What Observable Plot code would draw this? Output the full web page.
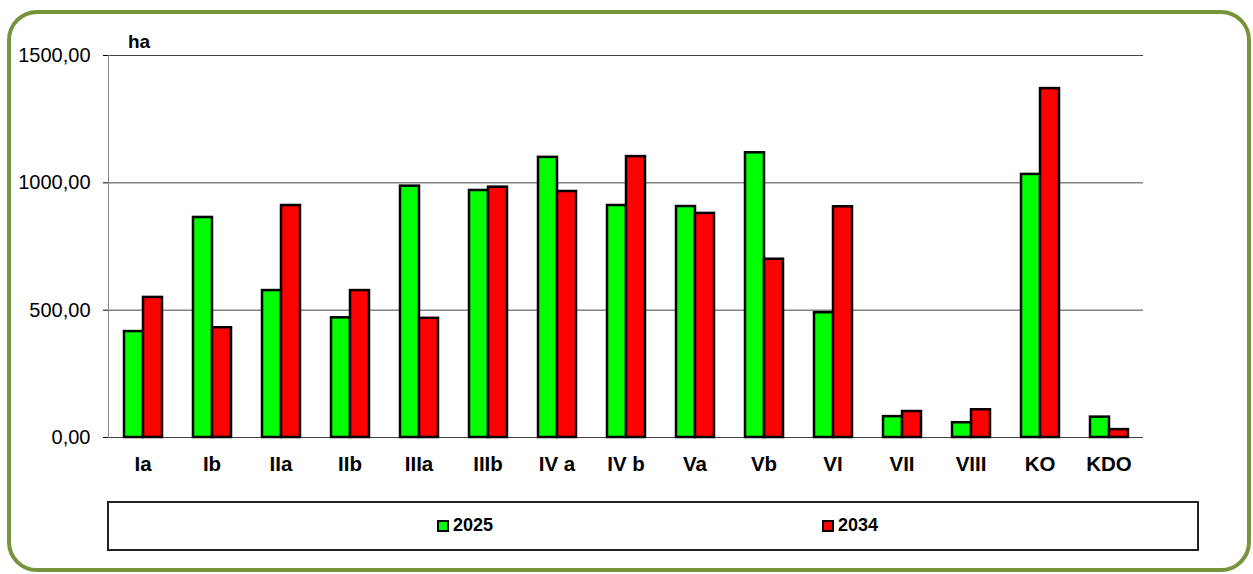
<!DOCTYPE html>
<html>
<head>
<meta charset="utf-8">
<script src="https://cdn.jsdelivr.net/npm/d3@7"></script>
<script src="https://cdn.jsdelivr.net/npm/@observablehq/plot@0.6"></script>
<style>
  html, body { margin: 0; padding: 0; background: #fff; }
  body { width: 1253px; height: 574px; position: relative; overflow: hidden; font-family: "Liberation Sans", Arial, sans-serif; }
  #frame { position: absolute; left: 7px; top: 10px; width: 1244px; height: 562px; box-sizing: border-box; border: 4px solid #77933C; border-radius: 30px; }
  #chart { position: absolute; left: 0; top: 0; }
  #unit { position: absolute; left: 128px; top: 31px; font-weight: bold; font-size: 19px; color: #000; }
  #legend { position: absolute; left: 107px; top: 501px; width: 1092px; height: 50px; box-sizing: border-box; border: 2px solid #222; }
  .item { position: absolute; top: 12px; font-weight: bold; font-size: 18px; display: flex; align-items: center; gap: 4px; }
  .sw { width: 8px; height: 8px; border: 2px solid #000; }
</style>
</head>
<body>
<div id="frame"></div>
<div id="chart"></div>
<div id="unit">ha</div>
<div id="legend"></div>
<script>
const categories = ["Ia","Ib","IIa","IIb","IIIa","IIIb","IV a","IV b","Va","Vb","VI","VII","VIII","KO","KDO"];
const series = ["2025","2034"];
const values2025 = [416, 864, 577, 470, 987, 970, 1100, 911, 907, 1118, 490, 82, 58, 1033, 80];
const values2034 = [550, 431, 911, 577, 468, 983, 966, 1103, 880, 700, 906, 102, 109, 1370, 31];
const yTicks = [0, 500, 1000, 1500];
const colors = ["#00ff00", "#ff0000"];

const data = [];
categories.forEach((c, i) => {
  data.push({cat: c, year: series[0], value: values2025[i]});
  data.push({cat: c, year: series[1], value: values2034[i]});
});

const chart = Plot.plot({
  width: 1253,
  height: 480,
  marginTop: 55,
  marginBottom: 43,
  marginLeft: 108,
  marginRight: 110,
  style: {fontFamily: "'Liberation Sans', Arial, sans-serif", background: "transparent", color: "#000"},
  fx: {domain: categories, padding: 0, label: null, axis: null},
  x: {domain: series, paddingInner: 0, paddingOuter: 0.75, axis: null},
  y: {domain: [0, 1500], label: null, axis: null},
  color: {domain: series, range: colors},
  marks: [
    Plot.ruleY(yTicks, {stroke: "#444", strokeWidth: 1}),
    Plot.frame({anchor: "left", facet: "super", stroke: "#888"}),
    Plot.barY(data, {fx: "cat", x: "year", y: "value", fill: "year", stroke: "#000", strokeWidth: 2.5}),
    Plot.axisY({ticks: yTicks, tickSize: 5, tickPadding: 13, fontSize: 20, label: null,
      tickFormat: d => d.toFixed(2).replace(".", ",")}),
    Plot.axisFx({anchor: "bottom", tickSize: 0, tickPadding: 19, fontSize: 20.5, fontWeight: "bold", label: null})
  ]
});
document.getElementById("chart").appendChild(chart);

const legend = document.getElementById("legend");
const lefts = [328, 713];
series.forEach((s, i) => {
  const it = document.createElement("div");
  it.className = "item";
  it.style.left = lefts[i] + "px";
  const sw = document.createElement("div");
  sw.className = "sw";
  sw.style.background = colors[i];
  const t = document.createElement("span");
  t.textContent = s;
  it.appendChild(sw);
  it.appendChild(t);
  legend.appendChild(it);
});
</script>
</body>
</html>
